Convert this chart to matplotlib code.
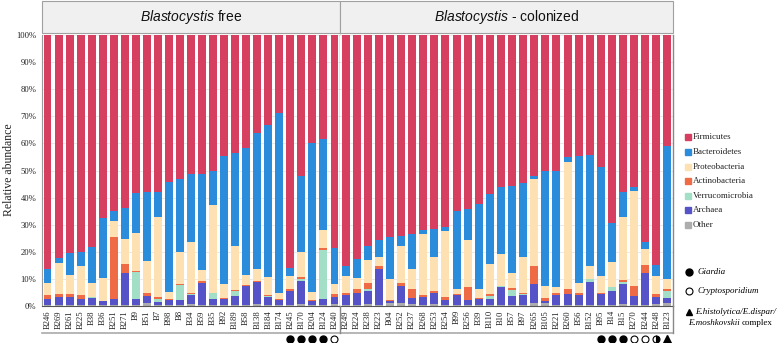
import matplotlib
matplotlib.use("Agg")
import matplotlib.pyplot as plt
from matplotlib.lines import Line2D
from matplotlib.patches import Rectangle
from matplotlib.transforms import blended_transform_factory
import numpy as np

plt.rcParams['mathtext.fontset'] = 'custom'
plt.rcParams['mathtext.it'] = 'Liberation Sans:italic'
plt.rcParams['mathtext.rm'] = 'Liberation Sans'

phyla = ["Firmicutes", "Bacteroidetes", "Proteobacteria", "Actinobacteria",
         "Verrucomicrobia", "Archaea", "Other"]
colors = ["#D63F5F", "#2C8CDC", "#FDE1B2", "#EF6B46", "#A3DFC7", "#5653C9", "#ADADAD"]

# ---- Blastocystis free ----
free_samples = ["B246", "B269", "B261", "B225", "B38", "B36", "B251", "B271", "B9", "B51",
                "B7", "B98", "B8", "B34", "B59", "B35", "B92", "B189", "B58", "B138",
                "B184", "B174", "B245", "B170", "B204", "B124", "B240"]
free_other = [0.3, 0.3, 0.3, 0.3, 0.3, 0.2, 0.3, 0.3, 0.3, 1.0, 0.2, 0.3, 0.3, 0.7, 0.3,
              0.3, 0.2, 0.4, 0.4, 0.8, 0.5, 0.3, 0.3, 0.7, 0.5, 0.3, 0.7]
free_archaea = [2.3, 3.2, 2.9, 2.3, 2.5, 1.6, 2.4, 11.9, 2.3, 2.6, 1.2, 1.8, 2.0, 3.4, 8.3,
                2.2, 2.4, 3.4, 6.8, 7.9, 2.9, 1.8, 5.3, 8.7, 1.3, 2.3, 2.8]
free_verruco = [0, 0, 0, 0, 0.4, 0.2, 0, 0, 10.0, 0, 1.3, 0, 5.5, 0.4, 0,
                2.4, 0, 1.8, 0, 0.3, 0.3, 0, 0, 0.7, 0, 18.1, 0]
free_actino = [1.5, 0.8, 1.3, 1.4, 0, 0, 22.7, 3.3, 0.4, 1.3, 0.5, 0.3, 0.5, 0.3, 0.5,
               0, 0.3, 0.4, 0.4, 0.2, 0.4, 0.4, 0.6, 0.5, 0.3, 0.7, 1.1]
free_proteo = [4.5, 11.5, 7.0, 10.6, 5.3, 8.3, 5.8, 9.3, 14.0, 11.8, 29.5, 2.9, 11.6, 18.7, 4.1,
               32.4, 5.1, 16.0, 3.7, 4.5, 6.6, 2.4, 4.7, 9.2, 3.1, 6.7, 3.7]
free_bacter = [5.0, 2.0, 8.0, 5.2, 13.2, 22.3, 4.0, 11.2, 14.8, 25.3, 9.2, 40.3, 27.1, 25.3, 35.5,
               12.6, 47.3, 34.3, 46.9, 50.2, 56.2, 66.5, 3.1, 28.3, 54.9, 33.6, 13.0]
free_firmic = [86.4, 82.2, 80.5, 80.2, 78.3, 67.4, 64.8, 64.0, 58.2, 58.0, 58.1, 54.4, 53.0, 51.2, 51.3,
               50.1, 44.7, 43.7, 41.8, 36.1, 33.1, 28.6, 86.0, 51.9, 39.9, 38.3, 78.7]
free_parasite = [""] * 22 + ["giardia", "giardia", "giardia", "giardia", "crypto"]

# ---- Blastocystis - colonized ----
col_samples = ["B249", "B224", "B238", "B223", "B04", "B252", "B237", "B268", "B253", "B254",
               "B99", "B256", "B39", "B110", "B10", "B57", "B97", "B265", "B105", "B221",
               "B260", "B56", "B152", "B95", "B14", "B15", "B270", "B244", "B248", "B123"]
col_other = [0.3, 0.3, 0.7, 0.3, 1.0, 1.0, 0.7, 0.4, 0.7, 0.4, 0.5, 0.3, 0.3, 0.5, 0.5,
             0.3, 0.3, 1.2, 1.0, 0.3, 0.3, 0.5, 0.5, 0.5, 0.5, 0.7, 0.4, 0.4, 0.7, 1.0]
col_archaea = [3.8, 4.6, 4.9, 13.3, 1.0, 6.5, 2.1, 2.8, 4.0, 1.8, 3.4, 1.9, 2.1, 2.0, 6.5,
               3.4, 3.8, 6.8, 1.0, 3.8, 4.0, 3.6, 8.4, 3.8, 5.2, 7.4, 3.3, 11.7, 2.8, 2.1]
col_verruco = [0, 0, 0.7, 0, 0, 0, 0, 0, 0, 0, 0, 0, 0, 1.2, 0.5,
               2.2, 0.4, 0, 0, 0, 0, 0, 1.0, 0, 1.2, 0.9, 0, 0, 0, 2.5]
col_actino = [0.8, 1.3, 2.3, 1.3, 0.3, 1.1, 3.5, 0.9, 0.9, 1.0, 0.4, 4.7, 0.4, 0.6, 0,
              0.6, 0.4, 6.6, 0.8, 0.6, 1.9, 0.8, 0, 0.6, 0, 0.6, 3.8, 3.1, 0.9, 0.6]
col_proteo = [6.3, 4.0, 8.4, 3.0, 7.6, 13.6, 7.3, 22.4, 12.3, 24.6, 1.9, 17.5, 3.4, 11.3, 11.6,
              5.6, 13.0, 32.3, 4.4, 2.2, 46.9, 3.7, 4.9, 6.2, 9.5, 23.1, 35.1, 5.9, 6.8, 3.8]
col_bacter = [3.7, 7.1, 5.0, 6.5, 15.5, 3.5, 12.9, 1.6, 10.5, 1.3, 29.0, 11.5, 31.6, 25.9, 24.7,
              32.1, 27.5, 1.0, 42.8, 43.1, 1.8, 46.7, 40.8, 40.3, 14.2, 9.3, 1.2, 2.5, 4.0, 49.0]
col_firmic = [85.1, 82.7, 78.0, 75.6, 74.6, 74.3, 73.5, 71.9, 71.6, 70.9, 64.8, 64.1, 62.2, 58.5, 56.2,
              55.8, 54.6, 52.1, 50.0, 50.0, 45.1, 44.7, 44.4, 48.6, 69.4, 58.0, 56.2, 76.4, 84.8, 41.0]
col_parasite = [""] * 23 + ["giardia", "giardia", "giardia", "crypto", "crypto", "mixed", "entamoeba"]

W, H = 784, 343
fig = plt.figure(figsize=(W / 100, H / 100), dpi=100)


def fx(x):
    return x / W


def fy(y):
    return 1 - y / H


serif = "Liberation Serif"
top_px, bot_px = 35, 306
ax1 = fig.add_axes([fx(42), fy(bot_px), fx(340) - fx(42), fy(top_px) - fy(bot_px)])
ax2 = fig.add_axes([fx(340), fy(bot_px), fx(673) - fx(340), fy(top_px) - fy(bot_px)])

panels = [
    (ax1, free_samples, [free_other, free_archaea, free_verruco, free_actino, free_proteo, free_bacter, free_firmic], free_parasite),
    (ax2, col_samples, [col_other, col_archaea, col_verruco, col_actino, col_proteo, col_bacter, col_firmic], col_parasite),
]
stack_colors = colors[::-1]  # Other at bottom ... Firmicutes on top

for ax, samples, series, parasites in panels:
    x = np.arange(len(samples))
    bottom = np.zeros(len(samples))
    for vals, c in zip(series, stack_colors):
        v = np.array(vals, dtype=float)
        ax.bar(x, v, bottom=bottom, width=0.72, color=c, linewidth=0, zorder=2)
        bottom += v
    ax.set_xlim(-0.5, len(samples) - 0.5)
    ax.set_ylim(0, 100)
    ax.set_yticks(np.arange(0, 101, 10))
    ax.grid(axis='y', color='#E6E6E6', linewidth=0.6, zorder=0)
    ax.set_axisbelow(True)
    ax.set_xticks(x)
    ax.set_xticklabels(samples, rotation=90, fontsize=6.2, family=serif, color='#222222')
    ax.tick_params(axis='x', length=0, pad=3)
    ax.tick_params(axis='y', length=0, pad=4)
    for s in ['top']:
        ax.spines[s].set_visible(False)
    ax.spines['bottom'].set_color('#555555')
    ax.spines['bottom'].set_linewidth(0.8)
    ax.spines['left'].set_color('#999999')
    ax.spines['right'].set_color('#888888')
    ax.spines['right'].set_linewidth(1.0)
    # parasite markers
    tr = blended_transform_factory(ax.transData, fig.transFigure)
    for xi, p in zip(x, parasites):
        if p == "giardia":
            ax.plot(xi, fy(339), marker='o', ms=5, color='black', mec='black', transform=tr, clip_on=False)
        elif p == "crypto":
            ax.plot(xi, fy(339), marker='o', ms=5, mfc='white', mec='black', mew=0.8, transform=tr, clip_on=False)
        elif p == "mixed":
            ax.plot(xi, fy(339), marker='o', ms=5, fillstyle='right', color='black', mfcalt='white',
                    mec='black', mew=0.8, transform=tr, clip_on=False)
        elif p == "entamoeba":
            ax.plot(xi, fy(339), marker='^', ms=5.5, color='black', transform=tr, clip_on=False)

ax1.set_yticklabels([f"{v}%" for v in range(0, 101, 10)], fontsize=6.2, family=serif, color='#222222')
ax2.set_yticks(np.arange(0, 101, 10))
ax2.tick_params(axis='y', labelleft=False)
ax2.spines['left'].set_visible(False)

fig.text(fx(9), fy(170), "Relative abundance", rotation=90, ha='center', va='center',
         fontsize=8.5, family=serif, color='#222222')

# strip headers
for (x0, x1, label) in [(42, 340, r"$\it{Blastocystis}$ free"), (340, 673, r"$\it{Blastocystis}$ - colonized")]:
    fig.add_artist(Rectangle((fx(x0), fy(33)), fx(x1) - fx(x0), fy(1) - fy(33), transform=fig.transFigure,
                             facecolor='#F0F0F0', edgecolor='#A0A0A0', linewidth=0.8))
    fig.text(fx((x0 + x1) / 2), fy(17), label, ha='center', va='center', fontsize=10,
             family='Liberation Sans', color='#111111')

# panel frame extension (label area)
line_kw = dict(transform=fig.transFigure, color='#AAAAAA', linewidth=1.2)
fig.add_artist(Line2D([fx(42), fx(673)], [fy(333), fy(333)], **line_kw))
fig.add_artist(Line2D([fx(340), fx(340)], [fy(306), fy(333)], transform=fig.transFigure, color='#888888', linewidth=1.0))
fig.add_artist(Line2D([fx(673), fx(673)], [fy(306), fy(333)], transform=fig.transFigure, color='#888888', linewidth=1.0))

# phylum legend
leg_y = [137, 152, 167, 181, 196, 210, 225]
for name, c, yy in zip(phyla, colors, leg_y):
    fig.add_artist(Line2D([fx(688)], [fy(yy)], marker='s', ms=4.2, color=c, linestyle='none',
                          transform=fig.transFigure))
    fig.text(fx(693), fy(yy), name, ha='left', va='center', fontsize=6.5, family=serif, color='#222222')

# parasite legend
fig.add_artist(Line2D([fx(689)], [fy(272)], marker='o', ms=5, color='black', linestyle='none',
                      transform=fig.transFigure))
fig.text(fx(697), fy(272), "Giardia", ha='left', va='center', fontsize=6.5, family=serif, style='italic')
fig.add_artist(Line2D([fx(689)], [fy(291)], marker='o', ms=5, mfc='white', mec='black', mew=0.8,
                      linestyle='none', transform=fig.transFigure))
fig.text(fx(697), fy(291), "Cryptosporidium", ha='left', va='center', fontsize=6.5, family=serif, style='italic')
fig.add_artist(Line2D([fx(689)], [fy(312)], marker='^', ms=5, color='black', linestyle='none',
                      transform=fig.transFigure))
fig.text(fx(695), fy(312), "E.histolytica/E.dispar/", ha='left', va='center', fontsize=6.5, family=serif,
         style='italic')
t2 = fig.text(fx(688), fy(323), "E.moshkovskii ", ha='left', va='center', fontsize=6.5, family=serif,
              style='italic')
fig.text(0, 0, "complex", fontsize=6.5, family=serif, ha='left', va='center')
fig.texts[-1].remove()
plt.gcf().canvas.draw()
bb = t2.get_window_extent()
fig.text(bb.x1 / W, fy(323), "complex", ha='left', va='center', fontsize=6.5, family=serif)

fig.savefig("out.png", dpi=100)
